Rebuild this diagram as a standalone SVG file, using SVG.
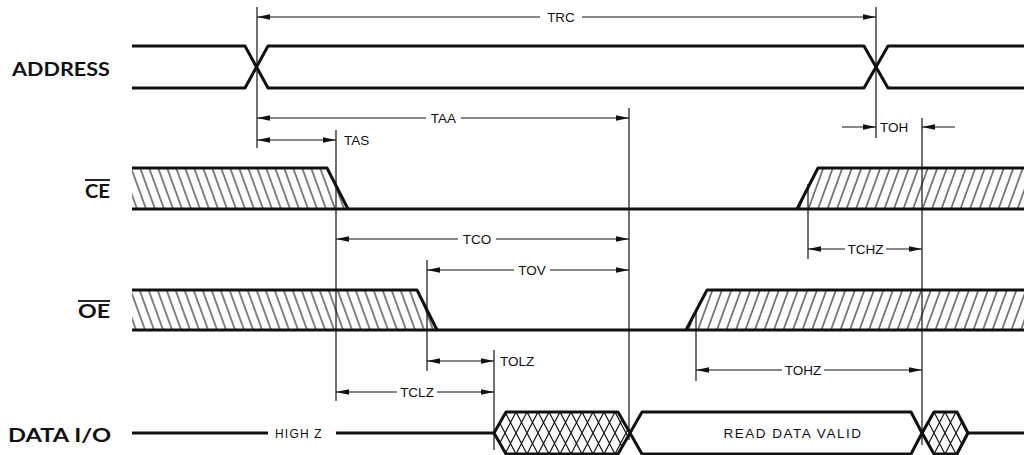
<svg xmlns="http://www.w3.org/2000/svg" width="1026" height="455" viewBox="0 0 1026 455">
<style>
.sig{fill:none;stroke:#111;stroke-width:3;stroke-linejoin:round}
.xh{fill:url(#xh)}
.dim{fill:none;stroke:#111;stroke-width:1}
.ext{fill:none;stroke:#111;stroke-width:1.2}
.lbl{font-family:"Liberation Sans",Arial,sans-serif;font-size:13.5px;fill:#111}
.mid{text-anchor:middle}
.name{font-family:"Lato","Liberation Sans",sans-serif;font-weight:bold;font-size:18px;fill:#111;text-anchor:end}
.bar{stroke:#111;stroke-width:1.8}
</style>
<defs>
<marker id="ar" markerUnits="userSpaceOnUse" markerWidth="13" markerHeight="7" refX="13" refY="3.5" orient="auto-start-reverse" viewBox="0 0 13 7">
<path d="M0,0.8 L13,3.5 L0,6.2 Z" fill="#111"/>
</marker>
<pattern id="hb" patternUnits="userSpaceOnUse" x="132" y="168" width="9" height="10" patternTransform="skewX(20)">
<line x1="1" y1="-1" x2="1" y2="11" stroke="#111" stroke-width="1.1"/>
</pattern>
<pattern id="hf" patternUnits="userSpaceOnUse" x="0" y="0" width="9.5" height="10" patternTransform="skewX(-20)">
<line x1="1" y1="-1" x2="1" y2="11" stroke="#111" stroke-width="1.1"/>
</pattern>
<pattern id="xh" patternUnits="userSpaceOnUse" x="494" y="412" width="11" height="21">
<path d="M0,0 L11,21 M11,0 L0,21" stroke="#111" stroke-width="1.2" fill="none"/>
</pattern>
</defs>
<rect width="1026" height="455" fill="#fff"/>

<g id="labels">
<text class="name" x="110" y="76" textLength="98" lengthAdjust="spacingAndGlyphs">ADDRESS</text>
<text class="name" x="110" y="198" textLength="25" lengthAdjust="spacingAndGlyphs">CE</text>
<line class="bar" x1="85" y1="180" x2="110" y2="180"/>
<text class="name" x="110" y="318" textLength="32" lengthAdjust="spacingAndGlyphs">OE</text>
<line class="bar" x1="78" y1="301" x2="110" y2="301"/>
<text class="name" x="111" y="442" textLength="103" lengthAdjust="spacingAndGlyphs">DATA I/O</text>
</g>

<g id="address">
<path class="sig" d="M132,46 H245 L268,88 H864 L888,46 H1024"/>
<path class="sig" d="M132,88 H245 L268,46 H864 L888,88 H1024"/>
</g>

<g id="ce">
<polygon points="132,168 327,168 348,209 132,209" fill="url(#hb)"/>
<polygon points="797,209 818,168 1024,168 1024,209" fill="url(#hf)"/>
<path class="sig" d="M132,168 H327 L348,209"/>
<path class="sig" d="M132,209 H1024"/>
<path class="sig" d="M797,209 L818,168 H1024"/>
</g>

<g id="oe">
<polygon points="132,290 417,290 437,330 132,330" fill="url(#hb)"/>
<polygon points="686,330 707,290 1024,290 1024,330" fill="url(#hf)"/>
<path class="sig" d="M132,290 H417 L437,330"/>
<path class="sig" d="M132,330 H1024"/>
<path class="sig" d="M686,330 L707,290 H1024"/>
</g>

<g id="data">
<path class="sig" d="M132,433 H268"/>
<text class="lbl" x="275" y="438" style="font-size:12px;letter-spacing:1.2px">HIGH  Z</text>
<path class="sig" d="M336,433 H494"/>
<polygon class="sig xh" points="494,433 506,412 618,412 630,433 618,454 506,454"/>
<polygon class="sig" points="630,433 642,412 911,412 922,433 911,454 642,454"/>
<text class="lbl mid" x="793" y="438" style="letter-spacing:1.5px">READ DATA VALID</text>
<polygon class="sig xh" points="922,433 934,412 957,412 968,433 957,454 934,454"/>
<path class="sig" d="M968,433 H1024"/>
</g>

<g id="connectors">
<line class="ext" x1="257" y1="7" x2="257" y2="148"/>
<line class="ext" x1="876" y1="7" x2="876" y2="138"/>
<line class="ext" x1="629" y1="108" x2="629" y2="440"/>
<line class="ext" x1="336" y1="130" x2="336" y2="401"/>
<line class="ext" x1="922" y1="118" x2="922" y2="445"/>
<line class="ext" x1="427" y1="260" x2="427" y2="371"/>
<line class="ext" x1="494" y1="350" x2="494" y2="450"/>
<line class="ext" x1="808" y1="184" x2="808" y2="259"/>
<line class="ext" x1="696" y1="312" x2="696" y2="381"/>

<path class="dim" d="M257,17 H540" marker-start="url(#ar)"/>
<path class="dim" d="M582,17 H876" marker-end="url(#ar)"/>
<text class="lbl mid" x="561" y="22">TRC</text>

<path class="dim" d="M257,118 H426" marker-start="url(#ar)"/>
<path class="dim" d="M461,118 H629" marker-end="url(#ar)"/>
<text class="lbl mid" x="443.5" y="123">TAA</text>

<path class="dim" d="M257,140 H336" marker-start="url(#ar)" marker-end="url(#ar)"/>
<text class="lbl" x="344" y="145">TAS</text>

<path class="dim" d="M842,127 H876" marker-end="url(#ar)"/>
<path class="dim" d="M955,127 H922" marker-end="url(#ar)"/>
<text class="lbl" x="880" y="132">TOH</text>

<path class="dim" d="M336,239 H458" marker-start="url(#ar)"/>
<path class="dim" d="M496,239 H629" marker-end="url(#ar)"/>
<text class="lbl mid" x="477" y="244">TCO</text>

<path class="dim" d="M427,270 H514" marker-start="url(#ar)"/>
<path class="dim" d="M550,270 H629" marker-end="url(#ar)"/>
<text class="lbl mid" x="532" y="275">TOV</text>

<path class="dim" d="M808,249 H845" marker-start="url(#ar)"/>
<path class="dim" d="M886,249 H922" marker-end="url(#ar)"/>
<text class="lbl mid" x="865.5" y="254">TCHZ</text>

<path class="dim" d="M427,361 H494" marker-start="url(#ar)" marker-end="url(#ar)"/>
<text class="lbl" x="500" y="366">TOLZ</text>

<path class="dim" d="M336,392 H397" marker-start="url(#ar)"/>
<path class="dim" d="M437,392 H494" marker-end="url(#ar)"/>
<text class="lbl mid" x="417" y="397">TCLZ</text>

<path class="dim" d="M696,370 H782" marker-start="url(#ar)"/>
<path class="dim" d="M824,370 H922" marker-end="url(#ar)"/>
<text class="lbl mid" x="803" y="375">TOHZ</text>
</g>
</svg>
